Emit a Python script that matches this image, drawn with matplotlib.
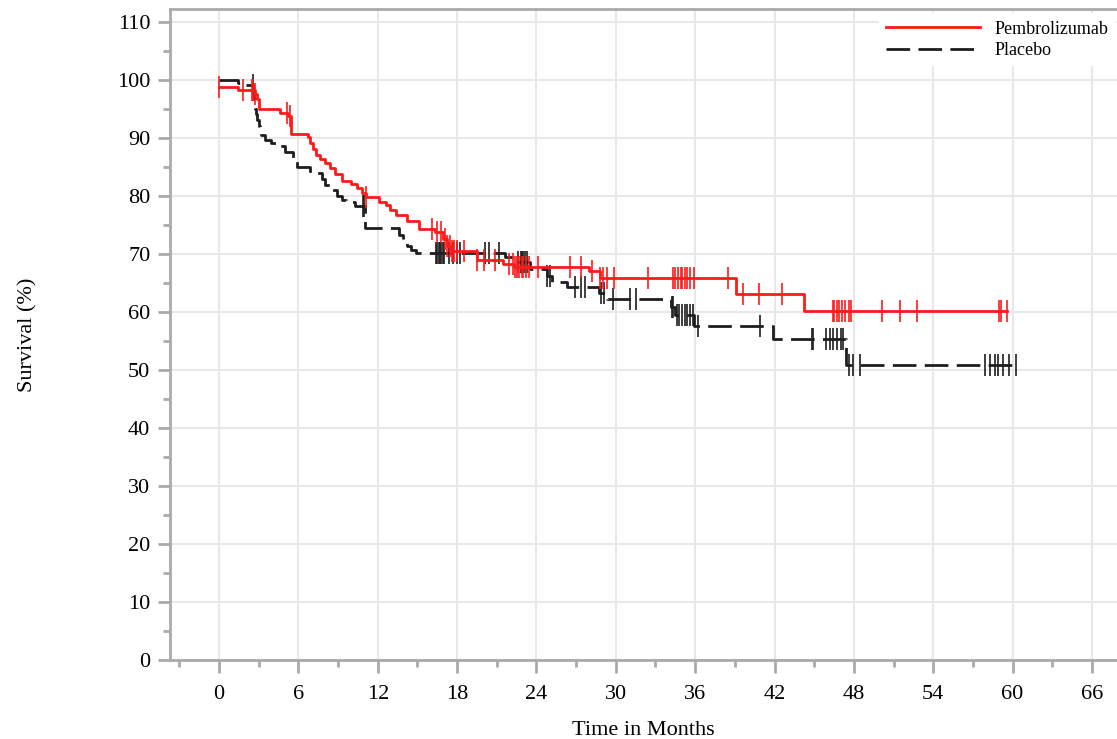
import matplotlib
matplotlib.use("Agg")
import matplotlib.pyplot as plt
import numpy as np
from matplotlib.lines import Line2D
from matplotlib.ticker import MultipleLocator

plt.rcParams['font.family'] = ['Liberation Serif', 'DejaVu Serif']
plt.rcParams['lines.scale_dashes'] = False

# Pembrolizumab KM steps (time in months, survival %)
pem_t = [0, 1.4, 2.7, 2.9, 3.0, 4.6, 5.2, 5.4, 6.7, 6.9, 7.1, 7.3, 7.6, 8.0, 8.4, 8.8,
         9.3, 10.0, 10.4, 10.8, 11.1, 12.1, 12.6, 12.9, 13.4, 14.2, 15.1, 16.3, 16.9,
         17.2, 17.5, 19.5, 21.5, 22.3, 28.0, 28.8, 39.1, 44.25, 59.6]
pem_s = [98.8, 98.2, 97.6, 96.6, 95.0, 94.2, 93.7, 90.7, 90.2, 89.0, 88.0, 87.0, 86.3,
         85.6, 84.8, 83.8, 82.5, 82.0, 81.3, 80.5, 79.7, 79.0, 78.4, 77.6, 76.7, 75.7,
         74.3, 73.7, 72.6, 71.3, 70.4, 69.0, 68.2, 67.8, 67.0, 65.8, 63.0, 60.2, 60.2]
pem_cens = [0, 1.8, 2.45, 2.6, 2.7, 5.15, 5.35, 11.1, 16.07, 16.5, 16.8, 17.07, 17.2,
            17.45, 17.6, 17.8, 17.96, 18.5, 19.5, 20.0, 20.85, 21.9, 22.2, 22.4, 22.5,
            22.7, 22.9, 23.0, 23.2, 23.4, 24.1, 26.5, 27.4, 28.2, 28.8, 29.0, 29.3, 29.9,
            32.45, 34.3, 34.5, 34.7, 34.9, 35.0, 35.2, 35.4, 35.6, 35.9, 38.5, 39.6, 40.8,
            42.6, 46.4, 46.5, 46.7, 46.9, 47.1, 47.3, 47.6, 47.8, 50.1, 51.5, 52.8, 59.0,
            59.1, 59.6]

# Placebo KM steps
pla_t = [0, 1.4, 1.9, 2.6, 2.65, 2.75, 2.8, 2.9, 3.0, 3.1, 3.2, 3.5, 3.9, 4.3, 5.0,
         5.6, 5.9, 6.9, 7.8, 8.0, 8.5, 8.9, 9.3, 9.6, 10.3, 11.0, 13.6, 13.9, 14.2,
         14.5, 14.9, 21.6, 22.4, 23.5, 24.8, 25.2, 26.3, 28.7, 29.3, 34.2, 34.5, 35.9,
         41.9, 47.4, 60.3]
pla_s = [100, 99.4, 99.0, 98.0, 96.6, 95.0, 94.0, 93.0, 92.0, 91.0, 90.4, 89.6, 89.0,
         88.6, 87.6, 85.9, 84.9, 83.9, 82.8, 81.9, 81.0, 79.9, 79.3, 79.0, 78.2, 74.4,
         73.3, 72.2, 71.3, 70.7, 70.1, 69.5, 68.5, 67.4, 66.1, 65.2, 64.2, 63.2, 62.2,
         60.9, 59.5, 57.6, 55.3, 50.9, 50.9]
pla_cens = [2.57, 10.85, 10.95, 16.4, 16.5, 16.6, 16.7, 16.8, 16.9, 17.0, 17.4, 17.7,
            18.0, 18.2, 20.1, 20.4, 21.2, 22.6, 22.8, 22.9, 23.0, 23.1, 23.3, 24.8, 25.0,
            26.9, 27.4, 27.7, 28.9, 29.1, 29.8, 31.1, 31.5, 34.25, 34.35, 34.6, 34.8,
            35.0, 35.2, 35.4, 35.6, 35.8, 36.2, 40.9, 44.8, 44.9, 45.9, 46.2, 46.4, 46.7,
            47.0, 47.2, 47.65, 47.95, 48.5, 57.9, 58.3, 58.7, 58.9, 59.3, 59.7, 60.3]


def step_value(times, surv, t):
    idx = np.searchsorted(times, t, side='right') - 1
    return np.array(surv)[idx]


fig = plt.figure(figsize=(11.17, 7.39), dpi=100)
ax = fig.add_axes([0.152, 0.107, 0.848, 0.881])

red = '#ff1a1a'
blk = '#1e1e1e'

ax.step(pem_t, pem_s, where='post', color=red, lw=2, zorder=3)
ax.plot(pem_cens, step_value(pem_t, pem_s, pem_cens), ls='none', marker='|',
        ms=16, mew=1.2, color=red, zorder=3)

ax.step(pla_t, pla_s, where='post', color=blk, lw=2, dashes=(17, 6), zorder=2)
ax.plot(pla_cens, step_value(pla_t, pla_s, pla_cens), ls='none', marker='|',
        ms=16, mew=1.2, color=blk, zorder=2)

ax.set_xlim(-3.73, 67.9)
ax.set_ylim(0, 112.2)
ax.xaxis.set_minor_locator(MultipleLocator(3))
ax.yaxis.set_major_locator(MultipleLocator(10))
ax.yaxis.set_minor_locator(MultipleLocator(5))
ax.set_xticks(np.arange(0, 67, 6))

ax.grid(True, which='major', color='#e8e8e8', lw=1.5, zorder=0)
ax.set_axisbelow(True)

for side in ['left', 'bottom', 'top']:
    ax.spines[side].set_color('#aaaaaa')
    ax.spines[side].set_linewidth(2)
ax.spines['right'].set_visible(False)

ax.tick_params(which='major', length=9, width=2, color='#aaaaaa', labelsize=16,
               labelcolor='black')
ax.tick_params(which='minor', length=5, width=2, color='#aaaaaa')
ax.tick_params(axis='x', pad=9)
ax.tick_params(axis='y', pad=5)

ax.set_xlabel('Time in Months', fontsize=16)
ax.set_ylabel('Survival (%)', fontsize=16)
ax.xaxis.set_label_coords(0.5, -0.094)
ax.yaxis.set_label_coords(-0.14, 0.5)

handles = [Line2D([], [], color=red, lw=2),
           Line2D([], [], color=blk, lw=2, dashes=(17, 6))]
leg = ax.legend(handles, ['Pembrolizumab', 'Placebo'], loc='upper right',
                bbox_to_anchor=(1.008, 1.007), fontsize=13, handlelength=5.2,
                handletextpad=0.8, frameon=True, fancybox=False, borderpad=0.4,
                labelspacing=0.25)
leg.get_frame().set_edgecolor('none')
leg.get_frame().set_facecolor('white')
leg.get_frame().set_alpha(1)

fig.savefig('out.png', dpi=100)
